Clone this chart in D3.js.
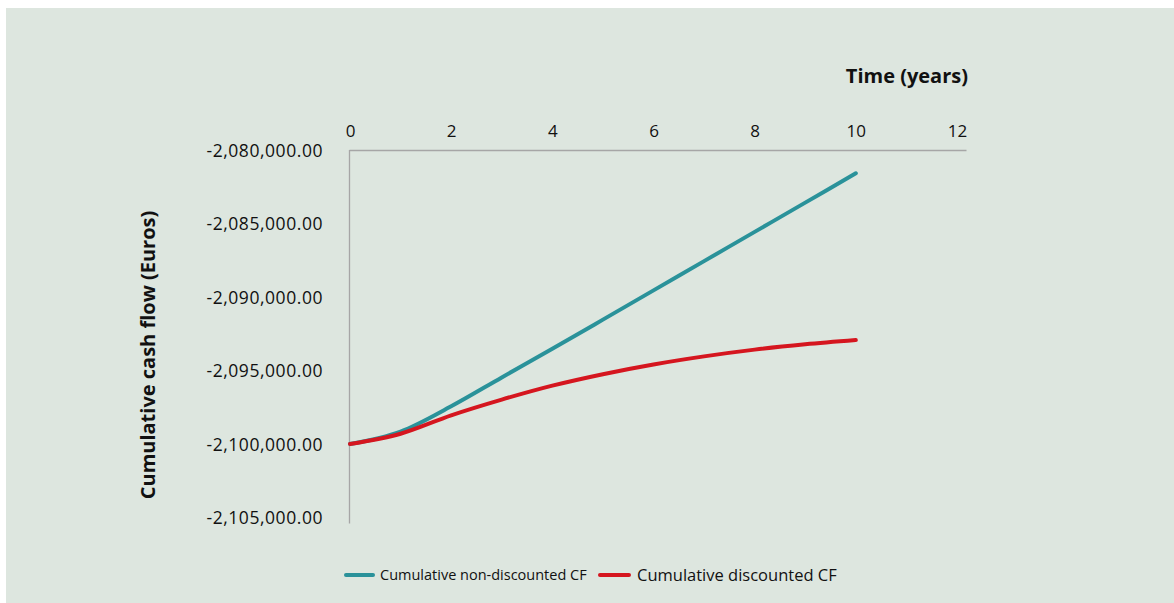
<!DOCTYPE html>
<html>
<head>
<meta charset="utf-8">
<script src="https://cdn.jsdelivr.net/npm/d3@7"></script>
<style>
  html, body { margin: 0; padding: 0; background: #ffffff; }
  svg { display: block; }
  text { font-family: "Open Sans", "Noto Sans", sans-serif; fill: #111; }
</style>
</head>
<body>
<script>
// ---- data ----
const years = [0, 1, 2, 3, 4, 5, 6, 7, 8, 9, 10];
const nonDiscounted = [-2100000, -2099150, -2097430, -2095470, -2093520, -2091540, -2089550, -2087560, -2085570, -2083580, -2081580];
const discounted = [-2100000, -2099300, -2098050, -2096980, -2096030, -2095250, -2094590, -2094040, -2093580, -2093220, -2092930];
const xTicks = [0, 2, 4, 6, 8, 10, 12];
const yTicks = [-2080000, -2085000, -2090000, -2095000, -2100000, -2105000];
const seriesNames = ["Cumulative non-discounted CF", "Cumulative discounted CF"];
const xTitle = "Time (years)";
const yTitle = "Cumulative cash flow (Euros)";

const W = 1174, H = 603;
const svg = d3.select("body").append("svg").attr("width", W).attr("height", H);

svg.append("rect").attr("x", 6).attr("y", 8).attr("width", W - 6).attr("height", H - 8).attr("fill", "#dde6df");

const x = d3.scaleLinear().domain([0, 12]).range([350, 957]);
const y = d3.scaleLinear().domain([-2105000, -2080000]).range([517.5, 150]);

// axes lines
const axisColor = "#a6a6a6";
svg.append("line").attr("x1", x(0) - 0.5).attr("x2", 966.5).attr("y1", y(-2080000) + 0.5).attr("y2", y(-2080000) + 0.5)
  .attr("stroke", axisColor).attr("stroke-width", 1.3);
svg.append("line").attr("x1", x(0) - 0.5).attr("x2", x(0) - 0.5).attr("y1", y(-2080000)).attr("y2", 523.5)
  .attr("stroke", axisColor).attr("stroke-width", 1.3);

// x tick labels (top)
const xAxis = d3.axisTop(x).tickValues(xTicks).tickSize(0).tickPadding(0).tickFormat(d3.format("d"));
const gx = svg.append("g").attr("transform", `translate(0,${131})`).call(xAxis);
gx.select(".domain").remove();
gx.selectAll("text").attr("font-size", 17).attr("dy", "0.36em").attr("y", 0)
  .style("font-family", "'Open Sans', sans-serif").attr("fill", "#111");

// y tick labels
const fmt = d3.format(",.2f");
const yAxis = d3.axisLeft(y).tickValues(yTicks).tickSize(0).tickPadding(0).tickFormat(d => fmt(d).replace("−", "-"));
const gy = svg.append("g").attr("transform", `translate(${323},0)`).call(yAxis);
gy.select(".domain").remove();
gy.selectAll("text").attr("font-size", 17.5).attr("dy", "0.36em").attr("x", 0)
  .style("font-family", "'Open Sans', sans-serif").style("letter-spacing", "0.55px").attr("fill", "#111");

// titles
svg.append("text").attr("x", 968).attr("y", 76).attr("dy", "0.35em").attr("text-anchor", "end")
  .attr("font-size", 20).attr("font-weight", "bold").text(xTitle);
svg.append("text").attr("transform", "translate(148,355) rotate(-90)").attr("dy", "0.35em").attr("text-anchor", "middle")
  .attr("font-size", 20).attr("font-weight", "bold").text(yTitle);

// lines
const colors = ["#2a929a", "#d5161f"];
const line = d3.line().x((d, i) => x(years[i])).y(d => y(d)).curve(d3.curveCatmullRom.alpha(0));
[nonDiscounted, discounted].forEach((s, i) => {
  svg.append("path").datum(s).attr("d", line).attr("fill", "none")
    .attr("stroke", colors[i]).attr("stroke-width", 4).attr("stroke-linecap", "round").attr("stroke-linejoin", "round");
});

// legend
const legY = 575;
const leg = [
  { x1: 346, x2: 373, tx: 380, size: 14.5 },
  { x1: 600, x2: 629, tx: 637, size: 16.5 }
];
leg.forEach((l, i) => {
  svg.append("line").attr("x1", l.x1).attr("x2", l.x2).attr("y1", legY).attr("y2", legY)
    .attr("stroke", colors[i]).attr("stroke-width", 4).attr("stroke-linecap", "round");
  svg.append("text").attr("x", l.tx).attr("y", legY).attr("dy", "0.35em").attr("font-size", l.size).text(seriesNames[i]);
});
</script>
</body>
</html>
